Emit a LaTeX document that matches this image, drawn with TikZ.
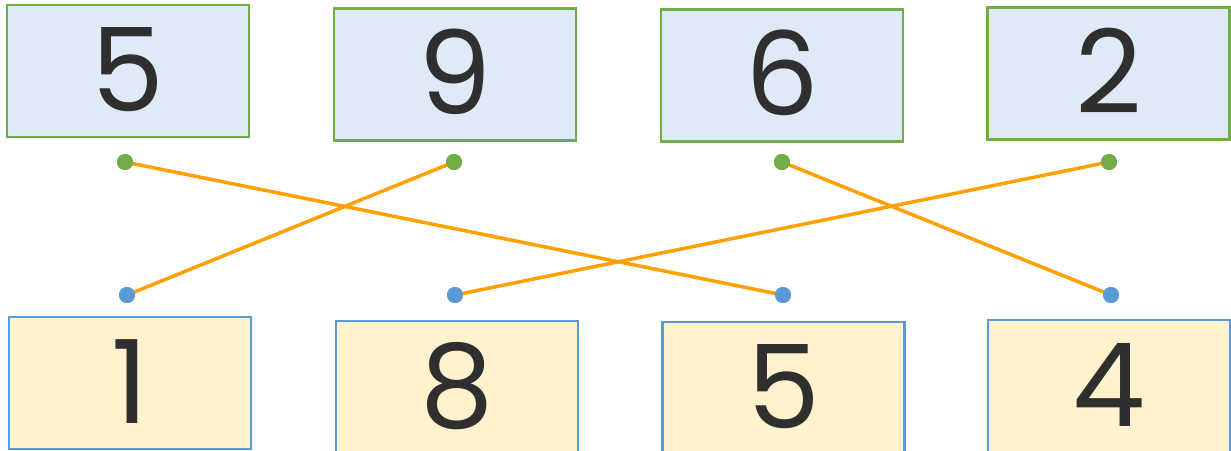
\documentclass[tikz,border=0pt]{standalone}
\usepackage{fontspec}
\setmainfont{Poppins}
\usepackage{xcolor}
\definecolor{numgreen}{RGB}{112,173,71}
\definecolor{numblue}{RGB}{91,155,213}
\definecolor{topfill}{RGB}{222,234,246}
\definecolor{botfill}{RGB}{255,242,204}
\definecolor{linkorange}{RGB}{255,160,0}
\definecolor{digit}{RGB}{47,47,47}
\tikzset{
  numbox/.style={rectangle,line width=2.5pt,minimum width=242pt,minimum height=132pt,inner sep=0pt,text=digit,text depth=0pt,text height=80pt,font=\fontsize{116}{116}\selectfont},
  topbox/.style={numbox,draw=numgreen,fill=topfill},
  botbox/.style={numbox,draw=numblue,fill=botfill},
  gdot/.style={circle,fill=numgreen,inner sep=0pt,minimum size=16pt},
  bdot/.style={circle,fill=numblue,inner sep=0pt,minimum size=16pt},
  link/.style={linkorange,line width=3.5pt}
}
\begin{document}
\begin{tikzpicture}[x=1pt,y=-1pt]
\useasboundingbox (0,0) rectangle (1231,450);
\clip (0,0) rectangle (1231,450);
\node (t1) at ( 128,71) [topbox] {5};
\node (t2) at ( 455,74.5) [topbox] {9};
\node (t3) at ( 782,75.5) [topbox] {6};
\node (t4) at (1108.5,73.5) [topbox] {2};
\node (b1) at ( 130,383) [botbox] {1};
\node (b2) at ( 457,387) [botbox] {8};
\node (b3) at ( 783.5,388) [botbox] {5};
\node (b4) at (1109,386) [botbox] {4};
\node (g1) at ( 125,162) [gdot] {};
\node (g2) at ( 454,162) [gdot] {};
\node (g3) at ( 782,162) [gdot] {};
\node (g4) at (1109,162) [gdot] {};
\node (u1) at ( 127,295) [bdot] {};
\node (u2) at ( 455,295) [bdot] {};
\node (u3) at ( 783,295) [bdot] {};
\node (u4) at (1111,295) [bdot] {};
\draw [link] (g1.center) -- (u3.center);
\draw [link] (g2.center) -- (u1.center);
\draw [link] (g3.center) -- (u4.center);
\draw [link] (g4.center) -- (u2.center);
\node at (g1) [gdot] {};
\node at (g2) [gdot] {};
\node at (g3) [gdot] {};
\node at (g4) [gdot] {};
\node at (u1) [bdot] {};
\node at (u2) [bdot] {};
\node at (u3) [bdot] {};
\node at (u4) [bdot] {};
\end{tikzpicture}
\end{document}
